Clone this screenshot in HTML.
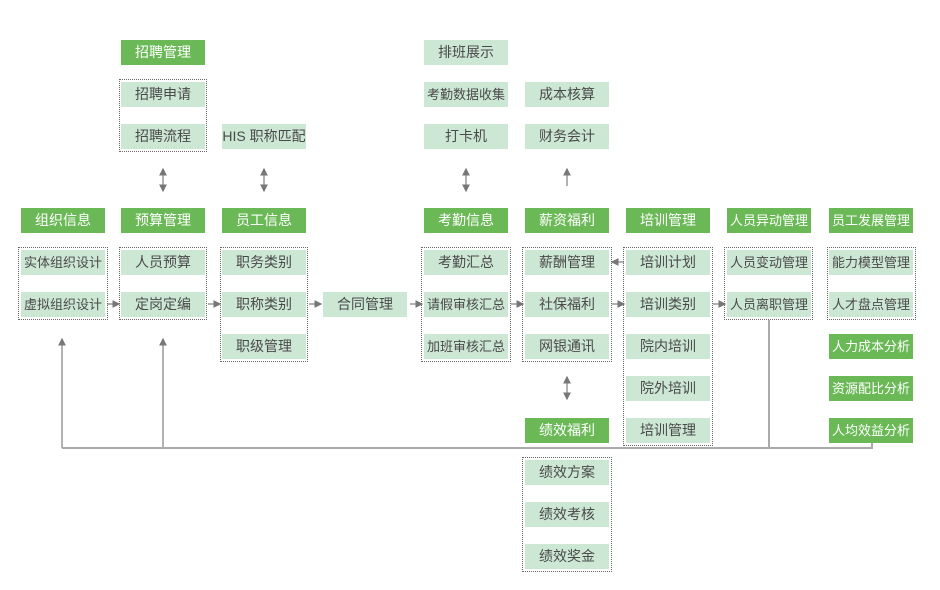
<!DOCTYPE html>
<html><head><meta charset="utf-8"><style>
body{margin:0;width:940px;height:590px;background:#fff;position:relative;overflow:hidden;font-family:"Liberation Sans","Noto Sans CJK SC",sans-serif}
.b{position:absolute;width:84px;height:25px;line-height:25px;text-align:center;font-size:14px;color:#4a4a4a;background:#cde7d5;white-space:nowrap}
.s{font-size:13px!important}
.g{background:#6ab956;color:#fff}
.d{position:absolute;border:1px dotted #666;box-sizing:border-box}
svg{position:absolute;left:0;top:0}
</style></head><body>
<svg width="940" height="590">
<defs><marker id="a" markerWidth="6" markerHeight="6" refX="5" refY="3" orient="auto-start-reverse"><path d="M0,0 L6,3 L0,6 z" fill="#777"/></marker></defs>
<g stroke="#888" stroke-width="1.3" fill="none">
<line x1="163" y1="169" x2="163" y2="191" marker-start="url(#a)" marker-end="url(#a)"/>
<line x1="264" y1="169" x2="264" y2="191" marker-start="url(#a)" marker-end="url(#a)"/>
<line x1="466" y1="169" x2="466" y2="191" marker-start="url(#a)" marker-end="url(#a)"/>
<line x1="567" y1="186" x2="567" y2="169" marker-end="url(#a)"/>
<line x1="567" y1="377" x2="567" y2="399" marker-start="url(#a)" marker-end="url(#a)"/>
<line x1="107" y1="304" x2="119" y2="304" marker-end="url(#a)"/>
<line x1="208" y1="304" x2="220" y2="304" marker-end="url(#a)"/>
<line x1="309" y1="304" x2="321" y2="304" marker-end="url(#a)"/>
<line x1="410" y1="304" x2="422" y2="304" marker-end="url(#a)"/>
<line x1="511" y1="304" x2="523" y2="304" marker-end="url(#a)"/>
<line x1="612" y1="304" x2="624" y2="304" marker-end="url(#a)"/>
<line x1="713" y1="304" x2="725" y2="304" marker-end="url(#a)"/>
<line x1="624" y1="262" x2="612" y2="262" marker-end="url(#a)"/>
<line x1="62" y1="448" x2="62" y2="339" marker-end="url(#a)"/>
<line x1="163" y1="448" x2="163" y2="339" marker-end="url(#a)"/>
</g>
<polyline points="62,448 872,448 872,443" stroke="#aaa" stroke-width="2" fill="none"/>
<line x1="769" y1="320" x2="769" y2="448" stroke="#aaa" stroke-width="2"/>
</svg>

<div class="d" style="left:119px;top:79px;width:88px;height:73px"></div>
<div class="d" style="left:18px;top:247px;width:90px;height:73px"></div>
<div class="d" style="left:119px;top:247px;width:88px;height:73px"></div>
<div class="d" style="left:220px;top:247px;width:88px;height:115px"></div>
<div class="d" style="left:421px;top:247px;width:90px;height:115px"></div>
<div class="d" style="left:522px;top:247px;width:90px;height:115px"></div>
<div class="d" style="left:623px;top:247px;width:90px;height:199px"></div>
<div class="d" style="left:724px;top:247px;width:89px;height:73px"></div>
<div class="d" style="left:827px;top:247px;width:89px;height:73px"></div>
<div class="d" style="left:522px;top:457px;width:90px;height:115px"></div>

<div class="b g" style="left:121px;top:40px">招聘管理</div>
<div class="b" style="left:121px;top:82px">招聘申请</div>
<div class="b" style="left:121px;top:124px">招聘流程</div>
<div class="b" style="left:222px;top:124px">HIS 职称匹配</div>
<div class="b" style="left:424px;top:40px">排班展示</div>
<div class="b s" style="left:424px;top:82px">考勤数据收集</div>
<div class="b" style="left:424px;top:124px">打卡机</div>
<div class="b" style="left:525px;top:82px">成本核算</div>
<div class="b" style="left:525px;top:124px">财务会计</div>

<div class="b g" style="left:21px;top:208px">组织信息</div>
<div class="b g" style="left:121px;top:208px">预算管理</div>
<div class="b g" style="left:222px;top:208px">员工信息</div>
<div class="b g" style="left:424px;top:208px">考勤信息</div>
<div class="b g" style="left:525px;top:208px">薪资福利</div>
<div class="b g" style="left:626px;top:208px">培训管理</div>
<div class="b g s" style="left:727px;top:208px">人员异动管理</div>
<div class="b g s" style="left:829px;top:208px">员工发展管理</div>

<div class="b s" style="left:21px;top:250px">实体组织设计</div>
<div class="b s" style="left:21px;top:292px">虚拟组织设计</div>
<div class="b" style="left:121px;top:250px">人员预算</div>
<div class="b" style="left:121px;top:292px">定岗定编</div>
<div class="b" style="left:222px;top:250px">职务类别</div>
<div class="b" style="left:222px;top:292px">职称类别</div>
<div class="b" style="left:222px;top:334px">职级管理</div>
<div class="b" style="left:323px;top:292px">合同管理</div>
<div class="b" style="left:424px;top:250px">考勤汇总</div>
<div class="b s" style="left:424px;top:292px">请假审核汇总</div>
<div class="b s" style="left:424px;top:334px">加班审核汇总</div>
<div class="b" style="left:525px;top:250px">薪酬管理</div>
<div class="b" style="left:525px;top:292px">社保福利</div>
<div class="b" style="left:525px;top:334px">网银通讯</div>
<div class="b g" style="left:525px;top:418px">绩效福利</div>
<div class="b" style="left:525px;top:460px">绩效方案</div>
<div class="b" style="left:525px;top:502px">绩效考核</div>
<div class="b" style="left:525px;top:544px">绩效奖金</div>
<div class="b" style="left:626px;top:250px">培训计划</div>
<div class="b" style="left:626px;top:292px">培训类别</div>
<div class="b" style="left:626px;top:334px">院内培训</div>
<div class="b" style="left:626px;top:376px">院外培训</div>
<div class="b" style="left:626px;top:418px">培训管理</div>
<div class="b s" style="left:727px;top:250px">人员变动管理</div>
<div class="b s" style="left:727px;top:292px">人员离职管理</div>
<div class="b s" style="left:829px;top:250px">能力模型管理</div>
<div class="b s" style="left:829px;top:292px">人才盘点管理</div>
<div class="b g s" style="left:829px;top:334px">人力成本分析</div>
<div class="b g s" style="left:829px;top:376px">资源配比分析</div>
<div class="b g s" style="left:829px;top:418px">人均效益分析</div>
</body></html>
